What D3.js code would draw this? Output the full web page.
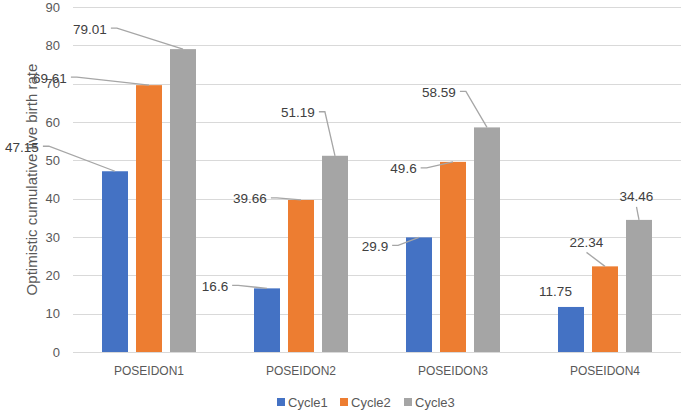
<!DOCTYPE html>
<html>
<head>
<meta charset="utf-8">
<script src="https://cdn.jsdelivr.net/npm/d3@7"></script>
<style>
  html, body { margin: 0; padding: 0; background: #ffffff; }
  svg { display: block; font-family: "Liberation Sans", Arial, sans-serif; }
</style>
</head>
<body>
<svg id="chart" width="685" height="411"></svg>
<script>
// ---- data ----
const categories = ["POSEIDON1", "POSEIDON2", "POSEIDON3", "POSEIDON4"];
const seriesNames = ["Cycle1", "Cycle2", "Cycle3"];
const cycle1 = [47.15, 16.6, 29.9, 11.75];
const cycle2 = [69.61, 39.66, 49.6, 22.34];
const cycle3 = [79.01, 51.19, 58.59, 34.46];
const yTicks = [0, 10, 20, 30, 40, 50, 60, 70, 80, 90];
const yLabel = "Optimistic cumulative live birth rate";

// ---- styling / layout (not data) ----
const colors = ["#4472C4", "#ED7D31", "#A5A5A5"];
// data-label placement: offset of label centre from bar-top centre, leader style
const labelLayout = [
  [ {dx: -93, dy: -24, lead: "right"}, {dx: -52, dy: -2, lead: "right"}, {dx: -44, dy: 9, lead: "right"}, {dx: -15.5, dy: -15, lead: "none"} ],
  [ {dx: -99, dy: -7, lead: "right"}, {dx: -51, dy: -1, lead: "right"}, {dx: -49.5, dy: 7, lead: "right"}, {dx: -18.5, dy: -24, lead: "bottom"} ],
  [ {dx: -93, dy: -20, lead: "right"}, {dx: -37, dy: -43, lead: "right"}, {dx: -48, dy: -35, lead: "right"}, {dx: -2.5, dy: -23, lead: "bottom"} ]
];

const seriesValues = [cycle1, cycle2, cycle3];
const svg = d3.select("#chart");
const plot = {left: 73, right: 681, top: 7, bottom: 352};

const x0 = d3.scaleBand().domain(categories).range([plot.left, plot.right]).padding(0);
const x1 = d3.scaleBand().domain(seriesNames)
  .range([29, x0.bandwidth() - 29]).paddingInner(8 / 34).paddingOuter(0);
const y = d3.scaleLinear().domain([0, 90]).range([plot.bottom, plot.top]);

// gridlines
svg.append("g").selectAll("line").data(yTicks).join("line")
  .attr("x1", plot.left).attr("x2", plot.right)
  .attr("y1", d => Math.round(y(d)) + 0.5).attr("y2", d => Math.round(y(d)) + 0.5)
  .attr("stroke", "#D9D9D9").attr("stroke-width", 1);

// y axis tick labels
const yAxis = d3.axisLeft(y).tickValues(yTicks).tickSize(0).tickPadding(0);
const gy = svg.append("g").attr("transform", `translate(${plot.left - 13},0)`).call(yAxis);
gy.select(".domain").remove();
gy.selectAll("text").attr("fill", "#595959").style("font-size", "13px")
  .style("font-family", "'Liberation Sans', Arial, sans-serif");

// x axis labels
const xAxis = d3.axisBottom(x0).tickSize(0).tickPadding(0);
const gx = svg.append("g").attr("transform", `translate(0,${plot.bottom + 14})`).call(xAxis);
gx.select(".domain").remove();
gx.selectAll("text").attr("fill", "#595959").style("font-size", "12px")
  .style("font-family", "'Liberation Sans', Arial, sans-serif");

// bars
const bars = [];
categories.forEach((c, ci) => {
  seriesNames.forEach((s, si) => {
    bars.push({cat: c, ci, ser: s, si, v: seriesValues[si][ci]});
  });
});
svg.append("g").selectAll("rect").data(bars).join("rect")
  .attr("x", d => x0(d.cat) + x1(d.ser))
  .attr("y", d => y(d.v))
  .attr("width", x1.bandwidth())
  .attr("height", d => y(0) - y(d.v))
  .attr("fill", d => colors[d.si]);

// data labels + leader lines
const gl = svg.append("g");
bars.forEach(d => {
  const L = labelLayout[d.si][d.ci];
  const bx = x0(d.cat) + x1(d.ser) + x1.bandwidth() / 2;
  const by = y(d.v);
  const lx = bx + L.dx, ly = by + L.dy;
  const t = gl.append("text")
    .attr("x", lx).attr("y", ly)
    .attr("text-anchor", "middle").attr("dominant-baseline", "central")
    .attr("fill", "#404040").style("font-size", "13.5px")
    .text(String(d.v));
  const w = t.node().getComputedTextLength();
  if (L.lead === "right") {
    const sx = lx + w / 2 + 4, sy = ly - 1;
    gl.append("path")
      .attr("d", `M${sx},${sy}L${sx + 6},${sy}L${bx},${by}`)
      .attr("fill", "none").attr("stroke", "#A6A6A6").attr("stroke-width", 1.3);
  } else if (L.lead === "bottom") {
    gl.append("path")
      .attr("d", `M${lx},${ly + 10}L${bx},${by}`)
      .attr("fill", "none").attr("stroke", "#A6A6A6").attr("stroke-width", 1.3);
  }
});

// y axis title
svg.append("text")
  .attr("transform", `translate(31,${(plot.top + plot.bottom) / 2}) rotate(-90)`)
  .attr("text-anchor", "middle").attr("dominant-baseline", "central")
  .attr("fill", "#595959").style("font-size", "15px")
  .text(yLabel);

// legend
const legendX = [277, 340, 404];
const lg = svg.append("g");
seriesNames.forEach((s, i) => {
  lg.append("rect").attr("x", legendX[i]).attr("y", 398).attr("width", 8).attr("height", 8)
    .attr("fill", colors[i]);
  lg.append("text").attr("x", legendX[i] + 11).attr("y", 402)
    .attr("dominant-baseline", "central").attr("fill", "#595959").style("font-size", "13px")
    .text(s);
});
</script>
</body>
</html>
